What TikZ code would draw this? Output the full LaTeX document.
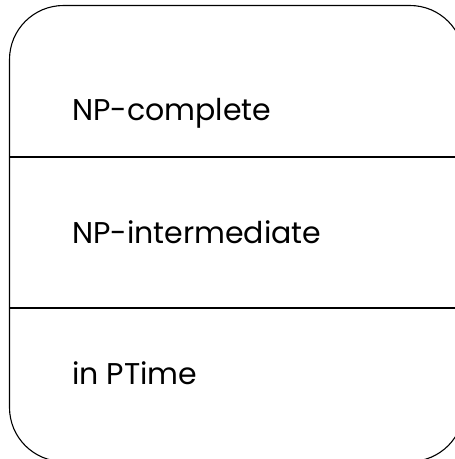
\documentclass[tikz,border=0pt]{standalone}
\usepackage{fontspec}
\setmainfont{Poppins}
\tikzset{
  frame/.style={draw=black, line width=1.1pt, rounded corners=54pt},
  divider/.style={draw=black, line width=1.1pt},
  label/.style={anchor=base west, inner sep=0pt, font=\fontsize{30}{36}\selectfont}
}
\begin{document}
\begin{tikzpicture}[x=1pt, y=-1pt]
  \useasboundingbox (0,0) rectangle (455,459);
  \clip (0,0) rectangle (455,459);
  % outer frame with rounded corners
  \path[frame] (9.5,5.5) rectangle (464,461.5);
  % row dividers
  \coordinate (d1l) at (9.5,157);
  \coordinate (d1r) at (464,157);
  \coordinate (d2l) at (9.5,308);
  \coordinate (d2r) at (464,308);
  \draw[divider] (d1l) -- (d1r);
  \draw[divider] (d2l) -- (d2r);
  % row labels
  \node[label] (npc) at (72,120) {NP-complete};
  \node[label] (npi) at (72,243) {NP-intermediate};
  \node[label] (ptime) at (72,384) {in PTime};
\end{tikzpicture}
\end{document}
